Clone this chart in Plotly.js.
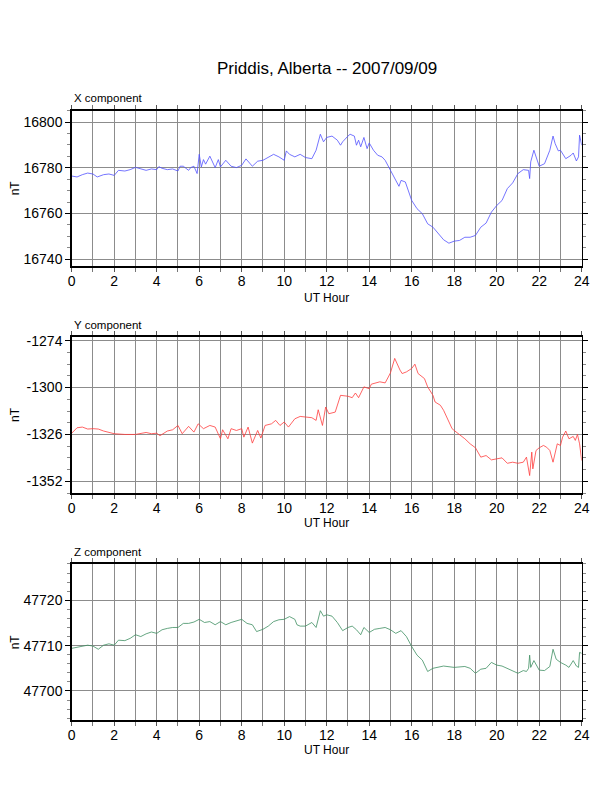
<!DOCTYPE html>
<html>
<head>
<meta charset="utf-8">
<script src="https://cdn.plot.ly/plotly-3.0.1.min.js"></script>
<style>html,body{margin:0;padding:0;background:#fff;}#chart{width:612px;height:792px;}</style>
</head>
<body>
<div id="chart"></div>
<script>
// ---- Data ----
const chartTitle = "Priddis, Alberta -- 2007/09/09";
const panelTitles = ["X component", "Y component", "Z component"];
const xAxisLabel = "UT Hour";
const yAxisLabel = "nT";
const hourTicks = [0, 2, 4, 6, 8, 10, 12, 14, 16, 18, 20, 22, 24];
const xTicks = [16740, 16760, 16780, 16800];
const yTicks = [-1352, -1326, -1300, -1274];
const zTicks = [47700, 47710, 47720];

const xHours = [0,0.25,0.5,0.75,1,1.2,1.5,1.75,2,2.2,2.5,2.75,3,3.25,3.5,3.75,4,4.1,4.25,4.5,4.75,5,5.1,5.25,5.5,5.6,5.75,5.9,6,6.1,6.2,6.3,6.5,6.75,6.9,7,7.25,7.5,7.75,8,8.2,8.5,8.75,9,9.25,9.5,9.75,10,10.1,10.25,10.5,10.75,11,11.3,11.5,11.7,11.85,12,12.25,12.5,12.65,12.75,13,13.1,13.3,13.4,13.5,13.6,13.75,13.9,14,14.2,14.4,14.6,14.75,15,15.25,15.4,15.5,15.7,16,16.25,16.5,16.75,17,17.25,17.5,17.75,18,18.25,18.5,18.75,19,19.25,19.5,19.75,20,20.25,20.5,20.75,21,21.25,21.5,21.55,21.6,21.75,22,22.25,22.5,22.65,22.75,22.9,23,23.25,23.5,23.6,23.75,23.85,23.9,24];
const xValues = [16776.4,16776.0,16777.0,16777.7,16777.3,16776.0,16777.0,16777.3,16776.7,16778.9,16778.6,16779.2,16780.2,16779.5,16778.9,16779.5,16779.2,16780.5,16779.8,16779.2,16779.5,16778.6,16780.7,16780.7,16778.9,16780.1,16780.7,16777.5,16785.9,16780.4,16783.6,16781.6,16785.1,16780.1,16783.6,16780.4,16783.3,16780.7,16780.1,16781.1,16783.9,16780.7,16782.9,16783.3,16784.5,16785.9,16784.8,16783.3,16787.4,16785.9,16784.8,16785.9,16784.5,16784.0,16787.7,16794.7,16791.4,16793.3,16793.9,16792.1,16789.9,16791.4,16793.9,16794.7,16793.9,16789.9,16792.1,16789.2,16793.3,16788.4,16790.9,16787.7,16785.5,16784.8,16783.3,16778.9,16774.5,16771.9,16774.5,16773.8,16765.7,16762.1,16759.9,16755.5,16754.0,16751.1,16748.5,16747.0,16747.9,16748.2,16749.6,16749.6,16750.4,16754.0,16755.8,16760.6,16763.5,16765.7,16770.9,16773.4,16777.5,16779.2,16778.9,16775.3,16782.6,16787.7,16780.7,16781.8,16787.7,16793.9,16790.6,16787.4,16787.7,16784.0,16785.5,16786.5,16783.0,16784.8,16794.3,16789.9];

const yHours = [0,0.25,0.5,0.75,1,1.25,1.5,1.75,2,2.5,3,3.5,3.75,4,4.15,4.5,4.75,5,5.2,5.5,5.75,5.95,6.2,6.5,6.75,7,7.1,7.35,7.5,7.75,8,8.1,8.3,8.5,8.75,8.9,9.1,9.4,9.6,9.8,10,10.2,10.5,10.75,11,11.3,11.5,11.6,11.8,11.95,12.1,12.4,12.65,13,13.2,13.35,13.5,13.75,14,14.1,14.5,14.75,14.9,15,15.2,15.3,15.45,15.55,15.75,16,16.15,16.3,16.6,16.75,17,17.1,17.35,17.5,17.7,17.9,18,18.25,18.5,18.75,19,19.25,19.5,19.75,20,20.25,20.5,20.75,21,21.25,21.4,21.5,21.55,21.65,21.7,21.85,22,22.2,22.35,22.5,22.65,22.85,23,23.1,23.25,23.4,23.6,23.7,23.8,23.9,24];
const yValues = [-1325.3,-1322.3,-1321.9,-1323.0,-1322.8,-1323.0,-1324.1,-1324.7,-1325.6,-1326.0,-1326.0,-1324.9,-1325.6,-1325.3,-1326.7,-1324.1,-1323.4,-1321.0,-1325.6,-1321.5,-1324.7,-1320.1,-1322.8,-1321.0,-1321.9,-1328.4,-1323.4,-1328.4,-1322.8,-1323.8,-1322.8,-1327.5,-1321.9,-1330.8,-1323.8,-1328.0,-1321.0,-1320.1,-1318.2,-1321.0,-1319.1,-1321.9,-1317.3,-1316.0,-1316.3,-1316.7,-1318.2,-1312.3,-1321.0,-1310.8,-1314.5,-1313.6,-1304.3,-1304.8,-1305.6,-1303.0,-1305.6,-1299.6,-1300.6,-1298.1,-1296.8,-1297.4,-1294.1,-1291.8,-1283.8,-1286.6,-1290.3,-1292.2,-1291.3,-1289.4,-1287.0,-1292.2,-1295.0,-1299.6,-1304.3,-1308.0,-1309.8,-1312.6,-1317.3,-1322.8,-1323.8,-1326.0,-1328.4,-1331.2,-1333.4,-1338.6,-1337.7,-1340.1,-1339.6,-1339.0,-1342.0,-1341.4,-1342.0,-1341.4,-1338.6,-1344.2,-1348.8,-1335.8,-1345.1,-1334.9,-1333.4,-1332.1,-1333.1,-1334.9,-1341.4,-1331.2,-1332.1,-1327.5,-1324.1,-1328.4,-1327.1,-1329.3,-1326.0,-1331.2,-1340.5];

const zHours = [0,0.25,0.5,0.75,1,1.25,1.5,1.75,2,2.2,2.5,2.75,3,3.25,3.5,3.75,4,4.25,4.5,4.75,5,5.25,5.5,5.75,6,6.25,6.5,6.75,7,7.25,7.5,7.75,8,8.25,8.5,8.7,9,9.25,9.5,9.75,10,10.25,10.5,10.6,10.75,11,11.3,11.5,11.7,11.85,12,12.25,12.5,12.75,13,13.2,13.4,13.6,13.75,14,14.25,14.5,14.75,15,15.25,15.5,15.75,16,16.25,16.5,16.75,17,17.25,17.5,18,18.5,18.75,19,19.25,19.5,19.75,20,20.25,20.5,20.75,21,21.25,21.4,21.5,21.55,21.6,21.75,22,22.25,22.5,22.65,22.8,23,23.25,23.4,23.6,23.75,23.85,23.9,24];
const zValues = [47709.4,47709.6,47709.9,47710.1,47709.9,47709.2,47710.1,47710.4,47710.1,47711.2,47711.1,47711.6,47712.4,47712.0,47712.6,47713.0,47712.7,47713.5,47713.8,47714.0,47714.0,47714.9,47714.9,47715.2,47715.8,47715.1,47715.3,47714.6,47715.3,47714.6,47715.1,47715.5,47715.8,47714.9,47714.6,47713.1,47713.6,47714.3,47715.3,47715.7,47715.8,47716.4,47715.8,47714.6,47714.3,47714.3,47715.1,47714.0,47717.7,47716.5,47716.8,47716.5,47715.1,47713.3,47714.0,47714.3,47713.5,47712.4,47714.0,47712.9,47713.6,47713.8,47714.0,47713.5,47712.7,47713.3,47712.0,47709.8,47707.9,47706.8,47704.3,47705.0,47705.2,47705.5,47705.2,47705.4,47705.0,47703.9,47704.8,47705.0,47706.3,47705.7,47705.5,47705.0,47704.5,47703.9,47704.5,47704.3,47705.0,47707.9,47705.2,47706.7,47704.6,47704.5,47705.4,47709.2,47707.0,47706.3,47705.7,47705.2,47706.7,47705.5,47705.2,47708.5,47708.3];

// ---- Styling / layout ----
const FONT = "Liberation Sans, Arial, Helvetica, sans-serif";
const GRID = "#8c8c8c";
const xDomain = [0.1172, 0.9505];
const panels = [
  {h: xHours, v: xValues, ticks: xTicks, color: "#5252ff", dom: [0.6641, 0.8602], range: [16737, 16805], tick0: 16740, minor: 5, titleY: 0.8763, nTY: 0.7622, utY: 1 - 298/792},
  {h: yHours, v: yValues, ticks: yTicks, color: "#ff3c3c", dom: [0.3775, 0.5741], range: [-1358.5, -1272.1], tick0: -1274, minor: 6.5, titleY: 0.5897, nTY: 0.476, utY: 1 - 523/792},
  {h: zHours, v: zValues, ticks: zTicks, color: "#3f8f62", dom: [0.0909, 0.2879], range: [47693.6, 47728], tick0: 47700, minor: 2, titleY: 0.3030, nTY: 0.189, utY: 1 - 750/792}
];

const traces = [];
const layout = {
  width: 612, height: 792,
  margin: {l: 0, r: 0, t: 0, b: 0},
  paper_bgcolor: "#fff", plot_bgcolor: "#fff",
  showlegend: false,
  font: {family: FONT, color: "#000", size: 13},
  annotations: [{
    text: chartTitle, xref: "paper", yref: "paper", x: 0.5338, y: 1 - 68/792,
    xanchor: "center", yanchor: "middle", showarrow: false,
    font: {family: FONT, size: 17, color: "#000"}
  }]
};

panels.forEach((p, i) => {
  const n = i === 0 ? "" : String(i + 1);
  traces.push({
    type: "scatter", mode: "lines", x: p.h, y: p.v,
    xaxis: "x" + n, yaxis: "y" + n,
    line: {color: p.color, width: 0.8},
    hoverinfo: "skip"
  });
  layout["xaxis" + n] = {
    domain: xDomain, range: [0, 24], anchor: "y" + n,
    tickmode: "array", tickvals: hourTicks, ticktext: hourTicks.map(String),
    ticks: "outside", ticklen: 4, tickcolor: "#555", tickwidth: 1,
    ticklabelstandoff: -3,
    showgrid: true, gridcolor: GRID, gridwidth: 1,
    minor: {dtick: 1, tick0: 0, showgrid: true, gridcolor: GRID, gridwidth: 1, ticks: "outside", ticklen: 4, tickcolor: "#777"},
    showline: true, linecolor: "#000", linewidth: 2, mirror: "ticks",
    zeroline: false, fixedrange: true,
    tickfont: {family: FONT, size: 14, color: "#000"}
  };
  layout["yaxis" + n] = {
    domain: p.dom, range: p.range, anchor: "x" + n,
    tickmode: "array", tickvals: p.ticks, ticktext: p.ticks.map(String),
    ticks: "outside", ticklen: 5, tickcolor: "#000", tickwidth: 1,
    showgrid: true, gridcolor: GRID, gridwidth: 1,
    minor: {dtick: p.minor, tick0: p.tick0, showgrid: false, ticks: "outside", ticklen: 3, tickcolor: "#888"},
    showline: true, linecolor: "#000", linewidth: 1.5, mirror: "ticks",
    zeroline: false, fixedrange: true,
    tickfont: {family: FONT, size: 14, color: "#000"}
  };
  layout.annotations.push({
    text: panelTitles[i], xref: "paper", yref: "paper", x: xDomain[0], y: p.titleY,
    xanchor: "left", yanchor: "middle", showarrow: false,
    font: {family: FONT, size: 11.5, color: "#000"}
  });
  layout.annotations.push({
    text: yAxisLabel, xref: "paper", yref: "paper", x: 15/612, y: p.nTY,
    xanchor: "center", yanchor: "middle", showarrow: false, textangle: -90,
    font: {family: FONT, size: 12, color: "#000"}
  });
  layout.annotations.push({
    text: xAxisLabel, xref: "paper", yref: "paper", x: 0.5338, y: p.utY,
    xanchor: "center", yanchor: "middle", showarrow: false,
    font: {family: FONT, size: 12, color: "#000"}
  });
});

Plotly.newPlot("chart", traces, layout, {staticPlot: true, displayModeBar: false});
</script>
</body>
</html>
